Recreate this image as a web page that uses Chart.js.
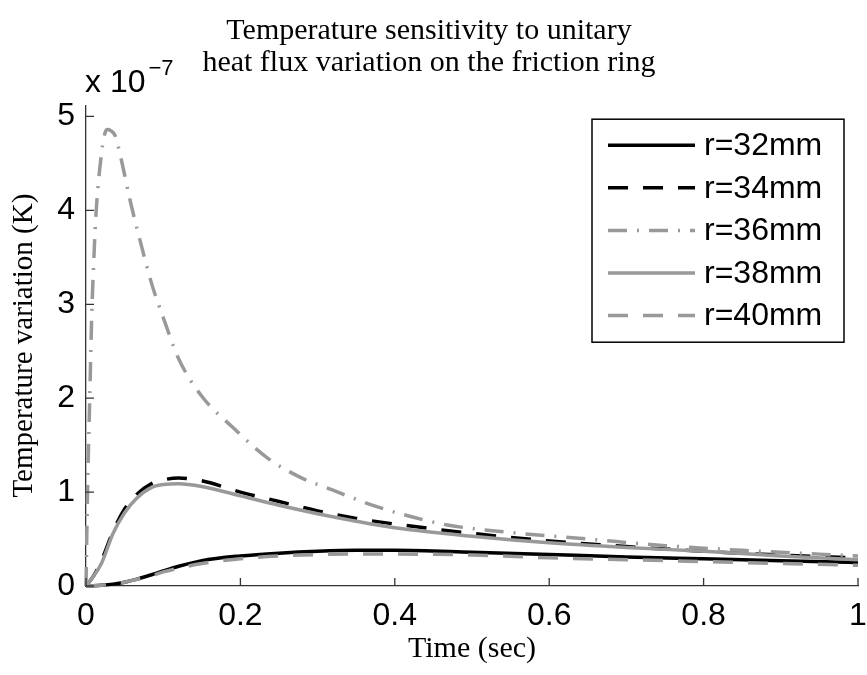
<!DOCTYPE html>
<html>
<head>
<meta charset="utf-8">
<script src="https://cdn.jsdelivr.net/npm/chart.js@4.4.1/dist/chart.umd.min.js"></script>
<style>
  html, body { margin: 0; padding: 0; background: #fff; }
  #wrap { width: 867px; height: 675px; }
</style>
</head>
<body>
<div id="wrap"><canvas id="tempChart" width="867" height="675"></canvas></div>
<script>
/* ── data (values in 1e-7 K) ── */
const time = [0, 0.01, 0.02, 0.035, 0.05, 0.065, 0.085, 0.1, 0.12, 0.15, 0.2, 0.25, 0.3, 0.35, 0.4, 0.5, 0.6, 0.7, 0.8, 0.9, 1.0];
const r32 = [0, 0.003, 0.008, 0.02, 0.04, 0.07, 0.12, 0.16, 0.21, 0.27, 0.32, 0.35, 0.37, 0.38, 0.38, 0.36, 0.335, 0.31, 0.29, 0.27, 0.25];
const r34 = [0, 0.11, 0.27, 0.58, 0.82, 0.97, 1.09, 1.13, 1.15, 1.12, 1.0, 0.9, 0.8, 0.72, 0.66, 0.56, 0.48, 0.42, 0.37, 0.33, 0.3];
const r38 = [0, 0.11, 0.24, 0.56, 0.78, 0.93, 1.05, 1.08, 1.09, 1.06, 0.96, 0.86, 0.77, 0.69, 0.62, 0.53, 0.46, 0.41, 0.37, 0.32, 0.28];
const r40 = [0, 0.003, 0.008, 0.02, 0.04, 0.07, 0.11, 0.15, 0.19, 0.24, 0.29, 0.32, 0.335, 0.34, 0.34, 0.33, 0.3, 0.28, 0.26, 0.24, 0.22];

// r=36 peaks very early, so it gets its own finer time grid
const time36 = [0, 0.002, 0.005, 0.0075, 0.01, 0.0125, 0.016, 0.02, 0.023, 0.027, 0.032, 0.038, 0.046, 0.057, 0.07, 0.085, 0.1, 0.12, 0.15, 0.19, 0.234, 0.277, 0.32, 0.364, 0.407, 0.468, 0.55, 0.65, 0.75, 0.85, 1.0];
const r36 = [0, 1.0, 2.05, 2.9, 3.45, 3.9, 4.29, 4.6, 4.77, 4.86, 4.85, 4.79, 4.53, 4.11, 3.68, 3.22, 2.86, 2.42, 2.02, 1.69, 1.37, 1.16, 1.02, 0.88, 0.77, 0.65, 0.57, 0.5, 0.43, 0.38, 0.32];

const seriesLabels = ['r=32mm', 'r=34mm', 'r=36mm', 'r=38mm', 'r=40mm'];
const xTicks = [0, 0.2, 0.4, 0.6, 0.8, 1];
const yTicks = [0, 1, 2, 3, 4, 5];

const SANS = "'Liberation Sans', Arial, sans-serif";
const SERIF = "'Liberation Serif', 'Times New Roman', serif";
const AXIS_COLOR = '#333';
const GREY = '#999999';

/* ── MATLAB style inward ticks ── */
const inwardTicks = {
  id: 'inwardTicks',
  afterDatasetsDraw(chart) {
    const { ctx, chartArea, scales } = chart;
    const len = 8;
    ctx.save();
    ctx.strokeStyle = AXIS_COLOR;
    ctx.lineWidth = 1.3;
    ctx.beginPath();
    xTicks.forEach((v) => {
      const x = scales.x.getPixelForValue(v);
      ctx.moveTo(x, chartArea.bottom);
      ctx.lineTo(x, chartArea.bottom - len);
    });
    yTicks.forEach((v) => {
      const y = scales.y.getPixelForValue(v);
      ctx.moveTo(chartArea.left, y);
      ctx.lineTo(chartArea.left + len, y);
    });
    ctx.stroke();
    ctx.restore();
  },
};

/* ── "x 10^-7" exponent label above the y axis ── */
const exponentLabel = {
  id: 'exponentLabel',
  afterDraw(chart) {
    const { ctx, chartArea } = chart;
    const x = chartArea.left - 1;
    const base = chartArea.top - 13;
    ctx.save();
    ctx.fillStyle = '#000';
    ctx.textBaseline = 'alphabetic';
    ctx.textAlign = 'left';
    ctx.font = `32px ${SANS}`;
    const main = 'x 10';
    ctx.fillText(main, x, base);
    const w = ctx.measureText(main).width;
    ctx.font = `22px ${SANS}`;
    ctx.fillText('\u22127', x + w + 3, base - 17);
    ctx.restore();
  },
};

/* ── legend box with real line samples ── */
const lineLegend = {
  id: 'lineLegend',
  afterDraw(chart) {
    const { ctx, chartArea } = chart;
    const boxW = 252;
    const boxH = 223;
    const right = chartArea.right - 14;
    const top = chartArea.top + 14;
    const left = right - boxW;
    const rowGap = 42.6;

    ctx.save();
    ctx.fillStyle = '#fff';
    ctx.fillRect(left, top, boxW, boxH);
    ctx.strokeStyle = '#000';
    ctx.lineWidth = 1.5;
    ctx.strokeRect(left, top, boxW, boxH);

    ctx.font = `32px ${SANS}`;
    ctx.textBaseline = 'middle';
    ctx.textAlign = 'left';

    chart.data.datasets.forEach((ds, i) => {
      const y = top + 26 + i * rowGap;
      ctx.beginPath();
      ctx.setLineDash(ds.borderDash || []);
      ctx.strokeStyle = ds.borderColor;
      ctx.lineWidth = ds.borderWidth;
      ctx.moveTo(left + 16, y);
      ctx.lineTo(left + 103, y);
      ctx.stroke();
      ctx.setLineDash([]);
      ctx.fillStyle = '#000';
      ctx.fillText(ds.label, left + 112, y + 1);
    });
    ctx.restore();
  },
};

function toPoints(xs, ys) {
  return xs.map((t, i) => ({ x: t, y: ys[i] }));
}

const styles = [
  { color: '#000', dash: [] },
  { color: '#000', dash: [20, 15] },
  { color: GREY, dash: [19, 10, 2, 10] },
  { color: GREY, dash: [] },
  { color: GREY, dash: [20, 15] },
];
const seriesData = [
  toPoints(time, r32),
  toPoints(time, r34),
  toPoints(time36, r36),
  toPoints(time, r38),
  toPoints(time, r40),
];

const datasets = seriesLabels.map((label, i) => ({
  label,
  data: seriesData[i],
  borderColor: styles[i].color,
  borderDash: styles[i].dash,
  borderWidth: 3.5,
  pointRadius: 0,
  fill: false,
  cubicInterpolationMode: 'monotone',
  clip: false,
  order: seriesLabels.length - 1 - i, // later series on top, like MATLAB
}));

new Chart(document.getElementById('tempChart'), {
  type: 'line',
  data: { datasets },
  plugins: [inwardTicks, exponentLabel, lineLegend],
  options: {
    responsive: false,
    animation: false,
    devicePixelRatio: 1,
    layout: { padding: { left: 0, right: 9, top: 0, bottom: 0 } },
    plugins: {
      legend: { display: false },
      tooltip: { enabled: false },
      title: {
        display: true,
        text: ['Temperature sensitivity to unitary', 'heat flux variation on the friction ring'],
        color: '#000',
        font: { family: SERIF, size: 30, weight: 'normal', lineHeight: 1.07 },
        padding: { top: 15, bottom: 26 },
      },
    },
    scales: {
      x: {
        type: 'linear',
        min: 0,
        max: 1,
        afterBuildTicks(scale) {
          scale.ticks = xTicks.map((v) => ({ value: v }));
        },
        afterFit(scale) {
          scale.height = 89;
          scale.paddingLeft = 0;
          scale.paddingRight = 0;
        },
        grid: { display: false, drawTicks: false },
        border: { display: true, color: AXIS_COLOR, width: 1.3 },
        ticks: {
          color: '#000',
          padding: 11,
          maxRotation: 0,
          font: { family: SANS, size: 32 },
          callback: (v) => String(Math.round(v * 10) / 10),
        },
        title: {
          display: true,
          text: 'Time (sec)',
          color: '#000',
          font: { family: SERIF, size: 30 },
          padding: { top: 0, bottom: 8 },
        },
      },
      y: {
        type: 'linear',
        min: 0,
        max: 5.12,
        afterBuildTicks(scale) {
          scale.ticks = yTicks.map((v) => ({ value: v }));
        },
        afterFit(scale) {
          scale.width = 86;
        },
        grid: { display: false, drawTicks: false },
        border: { display: true, color: AXIS_COLOR, width: 1.3 },
        ticks: {
          color: '#000',
          padding: 11,
          font: { family: SANS, size: 32 },
        },
        title: {
          display: true,
          text: 'Temperature variation (K)',
          color: '#000',
          font: { family: SERIF, size: 29 },
          padding: { top: 7, bottom: 0 },
        },
      },
    },
  },
});
</script>
</body>
</html>
